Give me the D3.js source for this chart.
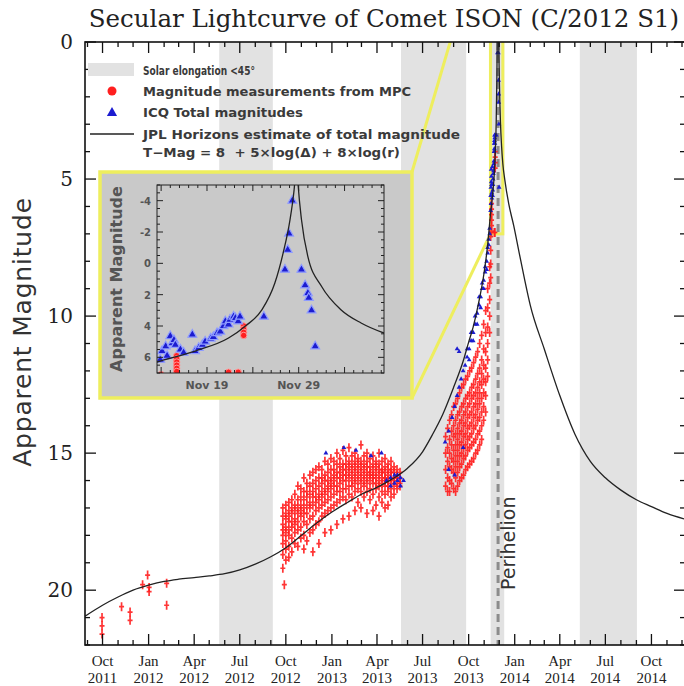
<!DOCTYPE html>
<html>
<head>
<meta charset="utf-8">
<script src="https://cdn.jsdelivr.net/npm/d3@7"></script>
<style>
body{margin:0;background:#fff;}
svg{display:block;}
</style>
</head>
<body>
<svg id="drawing_region"></svg>
<script>
// ---- data (dates as YYYY-MM-DD, day may be fractional) ----
const curveDates = ["2011-08-27","2011-10-01","2011-11-01","2011-12-01","2012-01-01","2012-02-01","2012-03-01","2012-04-01",
  "2012-05-01","2012-06-01","2012-07-01","2012-08-01","2012-09-01","2012-10-01","2012-11-01","2012-12-01","2013-01-01",
  "2013-02-01","2013-03-01","2013-04-01","2013-05-01","2013-06-01","2013-07-01","2013-07-20","2013-08-10","2013-09-01",
  "2013-09-20","2013-10-01","2013-10-10","2013-10-20","2013-11-01","2013-11-08","2013-11-13.55","2013-11-17.7","2013-11-21.35",
  "2013-11-23.2","2013-11-25","2013-11-26.4","2013-11-27.3","2013-11-28.05","2013-11-28.5","2013-11-28.78","2013-11-28.95",
  "2013-11-29.3","2013-11-30","2013-12-01.5","2013-12-03.6","2013-12-05.8","2013-12-08.3","2013-12-12","2013-12-20",
  "2013-12-30","2014-01-10","2014-01-20","2014-02-01","2014-03-01","2014-04-01","2014-05-01","2014-06-01","2014-07-01",
  "2014-08-01","2014-09-01","2014-10-01","2014-11-01","2014-12-05"];
const curveMags = [20.95,20.55,20.25,20.0,19.82,19.68,19.6,19.54,
  19.48,19.4,19.26,19.05,18.78,18.45,18.0,17.56,17.15,
  16.8,16.5,16.25,15.95,15.55,14.95,14.35,13.6,12.6,
  11.65,10.95,10.4,9.6,8.4,7.4,6.3,5.6,4.77,
  4.0,2.96,1.26,-0.65,-2.77,-4.7,-6.5,-4.9,
  -2.8,-0.43,1.48,2.96,3.81,4.45,5.0,5.9,
  6.7,7.7,8.6,9.6,11.2,12.9,14.3,15.3,15.9,
  16.35,16.7,16.95,17.2,17.4];

// Magnitude measurements from MPC
const mpcDates = ["2011-09-30","2011-11-08","2011-11-25","2011-12-20","2011-12-30","2012-01-02","2012-02-06","2012-09-28",
  "2012-09-25","2012-10-01","2012-10-07","2012-10-13","2012-10-19","2012-10-25","2012-10-31","2012-11-06","2012-11-12",
  "2012-11-18","2012-11-24","2012-11-30","2012-12-06","2012-12-12","2012-12-18","2012-12-24","2012-12-30","2013-01-05",
  "2013-01-11","2013-01-17","2013-01-23","2013-01-29","2013-02-04","2013-02-10","2013-02-16","2013-02-22","2013-02-28",
  "2013-03-06","2013-03-12","2013-03-18","2013-03-24","2013-03-30","2013-04-05","2013-04-11","2013-04-17","2013-04-23",
  "2013-04-29","2013-05-05","2013-05-11","2013-05-17",
  "2013-08-16","2013-08-20","2013-08-24","2013-08-28","2013-09-01","2013-09-05","2013-09-09","2013-09-13","2013-09-17",
  "2013-09-21","2013-09-25","2013-09-29","2013-10-03","2013-10-07","2013-10-11","2013-10-15","2013-10-19","2013-10-23",
  "2013-10-27","2013-10-31","2013-11-04","2013-11-08","2013-11-12","2013-11-14",
  "2013-11-15.7","2013-11-21.35","2013-11-22.4","2013-11-23"];
const mpcMags = [[21.0,21.3,21.6],[20.6],[20.8,21.1],[19.8],[19.45],[19.9,20.05],[19.75,20.55],[19.8],
  [17.0,17.3,17.6,17.8,18.0,18.3,18.7,19.2],[16.9,17.2,17.4,17.7,17.9,18.2,18.5,18.9],[16.8,17.1,17.3,17.5,17.8,18.0,18.4,18.8],
  [16.7,17.0,17.2,17.5,17.7,18.1,18.6],[16.5,16.9,17.1,17.4,17.6,17.9,18.3],[16.2,16.7,17.0,17.2,17.5,17.8,18.4],
  [16.3,16.6,16.9,17.1,17.3,17.7,18.1],[15.9,16.4,16.7,17.0,17.2,17.5,18.0,18.5],[16.1,16.4,16.6,16.9,17.2,17.6,18.2],
  [15.8,16.2,16.5,16.8,17.0,17.4,17.9],[15.7,16.1,16.4,16.6,16.9,17.3,17.8,18.6],[15.6,16.0,16.3,16.6,16.8,17.1,17.6],
  [15.5,15.9,16.2,16.5,16.7,17.0,17.5,18.3],[15.6,15.9,16.1,16.4,16.6,16.9,17.3],[15.3,15.8,16.0,16.3,16.5,16.8,17.2,17.9],
  [15.4,15.7,16.0,16.2,16.4,16.7,17.1],[15.2,15.6,15.9,16.1,16.3,16.6,17.0,17.8],[15.3,15.6,15.8,16.0,16.2,16.5,16.9],
  [15.0,15.4,15.7,15.9,16.2,16.4,16.8,17.6],[15.2,15.5,15.7,15.9,16.1,16.4,16.7],[14.9,15.4,15.6,15.8,16.0,16.3,16.6,17.4],
  [15.1,15.4,15.6,15.8,16.0,16.3,16.7],[14.8,15.3,15.5,15.7,15.9,16.2,16.5,17.3],[15.1,15.4,15.6,15.8,16.0,16.2,16.6],
  [15.0,15.3,15.5,15.7,15.9,16.1,16.4,17.1],[15.2,15.4,15.6,15.8,16.0,16.3,16.8],[14.7,15.3,15.5,15.7,15.9,16.1,16.4,17.0],
  [15.1,15.4,15.6,15.8,16.0,16.2,16.6],[15.0,15.3,15.5,15.7,15.9,16.1,16.4,17.2],[15.2,15.5,15.7,15.8,16.0,16.3,16.7],
  [15.1,15.4,15.6,15.8,15.9,16.1,16.5,17.1],[15.3,15.5,15.7,15.9,16.1,16.3,16.9],[15.0,15.4,15.6,15.8,16.0,16.2,16.6,17.3],
  [15.3,15.6,15.7,15.9,16.1,16.4,16.8],[15.2,15.5,15.7,15.9,16.0,16.2,16.5,17.0],[15.4,15.6,15.8,16.0,16.2,16.4,16.9],
  [15.3,15.6,15.7,15.9,16.1,16.3,16.6],[15.5,15.7,15.9,16.0,16.2,16.5],[15.6,15.8,15.9,16.1,16.3],[15.7,15.9,16.1,16.2],
  [14.4,15.0,15.6,16.2],[14.1,14.8,15.3,15.9,16.4],[13.8,14.5,15.0,15.5,16.0,16.4],[13.6,14.2,14.7,15.2,15.6,16.1],
  [13.3,14.0,14.4,14.9,15.3,15.7,16.3],[13.2,13.8,14.3,14.7,15.1,15.5,15.9,16.4],[13.0,13.6,14.1,14.5,14.9,15.3,15.7,16.2],
  [12.8,13.5,13.9,14.3,14.7,15.1,15.5,16.0],[12.6,13.3,13.8,14.2,14.6,15.0,15.4,15.9],[12.5,13.2,13.6,14.0,14.4,14.8,15.2,15.8],
  [12.3,13.0,13.5,13.9,14.3,14.7,15.1,15.6],[12.2,12.9,13.3,13.7,14.1,14.5,14.9,15.5],[12.0,12.8,13.2,13.6,14.0,14.4,14.8,15.4],
  [11.9,12.6,13.0,13.5,13.9,14.3,14.7,15.3],[11.7,12.5,12.9,13.3,13.7,14.1,14.6,15.2],[11.5,12.3,12.8,13.2,13.6,14.0,14.5,15.0],
  [11.3,12.1,12.6,13.0,13.4,13.8,14.3,14.9],[11.0,11.9,12.4,12.8,13.2,13.7,14.2,14.7],[10.7,11.6,12.1,12.5,13.0,13.5,14.0,14.5],
  [10.3,11.2,11.8,12.3,12.8,13.3,13.8],[9.8,10.6,11.3,11.9,12.4,12.9,13.5],[9.0,9.7,10.4,11.0,11.6,12.2],[8.2,8.8,9.4,10.0,10.6],
  [7.1,7.6,8.1,8.6],
  [5.9,6.1,6.3,6.5,6.7,6.9],[6.95],[6.95],[4.0,4.2,4.4,4.6]];

// ICQ total magnitudes
const icqDates = ["2012-12-20","2013-01-25","2013-02-18","2013-03-20","2013-04-10","2013-04-20","2013-04-28","2013-05-06",
  "2013-05-12","2013-05-18","2013-05-24",
  "2013-08-15","2013-08-22","2013-08-29","2013-09-03","2013-09-08","2013-09-12","2013-09-16","2013-09-20","2013-09-24",
  "2013-09-28","2013-10-02","2013-10-06","2013-10-10","2013-10-14","2013-10-18","2013-10-22","2013-10-25","2013-10-28",
  "2013-10-31","2013-11-03","2013-11-06","2013-11-08","2013-11-10","2013-11-12",
  "2013-11-13.9","2013-11-14.1","2013-11-14.5","2013-11-14.65","2013-11-15","2013-11-15.2","2013-11-15.4","2013-11-15.55",
  "2013-11-16.1","2013-11-16.45","2013-11-17.4","2013-11-17.7","2013-11-18.1","2013-11-18.5","2013-11-18.8","2013-11-19.4",
  "2013-11-19.7","2013-11-20.1","2013-11-20.45","2013-11-20.8","2013-11-21","2013-11-21.35","2013-11-21.5","2013-11-21.9",
  "2013-11-22.1","2013-11-22.4","2013-11-22.6","2013-11-25.2","2013-11-27.5","2013-11-27.8","2013-11-27.95","2013-11-28.3",
  "2013-11-29.3","2013-11-29.7","2013-11-30","2013-11-30.1","2013-11-30.4","2013-11-30.8"];
const icqMags = [[15.0],[14.8],[14.9],[15.1],[15.0],[16.0],[15.9,16.2],[16.1,15.8],
  [15.8,16.0],[16.2,15.9],[16.0],
  [14.6],[14.2,15.6],[13.7],[13.3,15.8],[12.9,11.2],[12.6,11.3],[12.3],[12.0,14.8],[11.8],
  [11.5,11.2],[11.2,11.6],[10.9,10.6],[10.6,10.9],[10.3,10.0],[9.9,10.3],[9.6,9.3],[9.3,9.7],[9.0,8.8],
  [8.7,9.0],[8.4,8.2],[8.0,8.3],[7.7,7.5],[7.4,7.2],[7.0,6.8],
  [6.15],[5.6],[5.3],[5.9],[4.65],[5.1],[4.9],[5.2],
  [5.5],[5.7],[4.55],[5.6],[5.4],[5.2],[5.0],[4.8],
  [4.7],[4.45],[4.35],[4.0],[3.7],[3.9],[3.6],[3.4],
  [3.5],[3.7],[3.4],[3.4],[0.4],[-0.86],[-1.9],[-4.0],
  [0.4],[1.4],[1.9],[2.2],[3.0],[5.3]];

// solar elongation < 45 deg
const bandStarts = ["2012-05-21","2013-05-19","2013-11-14","2014-05-11"];
const bandEnds   = ["2012-09-05","2013-09-26","2013-12-11","2014-09-02"];
const perihelion = "2013-11-28.78";
const insetRange = ["2013-11-13.55","2013-12-08.3"];
const insetMagRange = [-5, 7];
const insetTickDates = ["2013-11-19","2013-11-29"];
const insetTickLabels = ["Nov 19","Nov 29"];

// ---- helpers ----
function day(s){
    const p = s.split('-');
    return new Date(Date.UTC(+p[0], +p[1]-1, 1) + (+p[2]-1)*864e5);
}
function rows(dates, mags){
    const out = [];
    dates.forEach((d,i) => mags[i].forEach(m => out.push({t: day(d), m: m})));
    return out;
}
const curve = curveDates.map((d,i) => ({t: day(d), m: curveMags[i]}));
const mpc = rows(mpcDates, mpcMags);
const icq = rows(icqDates, icqMags);

const RED = '#ff1f1f', BLUE = '#1c1cd0', BAND = '#e2e2e2', YEL = '#eeee5e';

const svg = d3.select('#drawing_region').attr('width', 684).attr('height', 686)
              .style('font-family', 'DejaVu Sans');

const plot = {left: 85, top: 42, right: 685, bottom: 645};
const x = d3.scaleUtc().domain([day("2011-08-27"), day("2014-12-05")]).range([plot.left, 684]);
const y = d3.scaleLinear().domain([0, 22]).range([plot.top, plot.bottom]);

const defs = svg.append('defs');
defs.append('clipPath').attr('id', 'clip-main').append('rect')
    .attr('x', plot.left).attr('y', plot.top)
    .attr('width', plot.right - plot.left).attr('height', plot.bottom - plot.top);

// title
svg.append('text').attr('x', 384).attr('y', 27).attr('text-anchor', 'middle')
   .style('font-family', 'DejaVu Serif').style('font-size', '24.5px').attr('fill', '#222')
   .text('Secular Lightcurve of Comet ISON (C/2012 S1)');

const main = svg.append('g').attr('clip-path', 'url(#clip-main)');

// grey bands
main.selectAll('rect.band').data(bandStarts).enter().append('rect')
    .attr('x', (d,i) => x(day(d)))
    .attr('width', (d,i) => x(day(bandEnds[i])) - x(day(d)))
    .attr('y', plot.top).attr('height', plot.bottom - plot.top)
    .attr('fill', BAND);

// perihelion
main.append('line')
    .attr('x1', x(day(perihelion))).attr('x2', x(day(perihelion)))
    .attr('y1', plot.top).attr('y2', plot.bottom)
    .attr('stroke', '#8c8c8c').attr('stroke-width', 3).attr('stroke-dasharray', '8,5');

// zoom box + connectors to the inset
const inset = {left: 100, top: 172, right: 412, bottom: 398};
const zx0 = x(day(insetRange[0])), zx1 = x(day(insetRange[1]));
main.append('rect').attr('x', zx0).attr('width', zx1 - zx0)
    .attr('y', y(insetMagRange[0])).attr('height', y(insetMagRange[1]) - y(insetMagRange[0]))
    .attr('fill', 'none').attr('stroke', YEL).attr('stroke-width', 3);
main.append('line').attr('x1', inset.right).attr('y1', inset.top)
    .attr('x2', zx0).attr('y2', y(insetMagRange[0]))
    .attr('stroke', YEL).attr('stroke-width', 3);
main.append('line').attr('x1', inset.right).attr('y1', inset.bottom)
    .attr('x2', zx0).attr('y2', y(insetMagRange[1]))
    .attr('stroke', YEL).attr('stroke-width', 3);

// MPC points: small crosses with tall vertical bars
main.selectAll('path.mpc').data(mpc).enter().append('path')
    .attr('d', d => `M${x(d.t)},${y(d.m)-4.5}V${y(d.m)+4.5}M${x(d.t)-2.5},${y(d.m)}H${x(d.t)+2.5}`)
    .attr('stroke', RED).attr('stroke-width', 1.7).attr('fill', 'none').attr('opacity', 0.9);

// ICQ points
const triSmall = d3.symbol().type(d3.symbolTriangle).size(10);
main.selectAll('path.icq').data(icq).enter().append('path')
    .attr('transform', d => `translate(${x(d.t)},${y(d.m)})`)
    .attr('d', triSmall).attr('fill', BLUE);

// JPL curve
const line = d3.line().x(d => x(d.t)).y(d => y(d.m)).curve(d3.curveMonotoneX);
main.append('path').attr('d', line(curve))
    .attr('fill', 'none').attr('stroke', '#222').attr('stroke-width', 1.3);

// ---- axes (frame + inward ticks) ----
const ax = svg.append('g').attr('stroke', '#111');
ax.append('rect').attr('x', plot.left).attr('y', plot.top)
  .attr('width', plot.right - plot.left).attr('height', plot.bottom - plot.top)
  .attr('fill', 'none').attr('stroke-width', 1.6);

const months = d3.utcMonth.range(x.domain()[0], x.domain()[1]);
months.forEach(m => {
    const len = m.getUTCMonth() % 3 === 0 ? 11 : 5;
    ax.append('line').attr('x1', x(m)).attr('x2', x(m)).attr('y1', plot.bottom).attr('y2', plot.bottom - len).attr('stroke-width', 1.3);
    ax.append('line').attr('x1', x(m)).attr('x2', x(m)).attr('y1', plot.top).attr('y2', plot.top + len).attr('stroke-width', 1.3);
});
d3.range(0, 23).forEach(v => {
    const len = v % 5 === 0 ? 11 : 5;
    ax.append('line').attr('x1', plot.left).attr('x2', plot.left + len).attr('y1', y(v)).attr('y2', y(v)).attr('stroke-width', 1.3);
    ax.append('line').attr('x1', plot.right).attr('x2', plot.right - len).attr('y1', y(v)).attr('y2', y(v)).attr('stroke-width', 1.3);
});

const quarters = months.filter(m => m.getUTCMonth() % 3 === 0);
const xlab = svg.append('g').style('font-family', 'Liberation Serif').style('font-size', '15px')
                .attr('fill', '#222').attr('text-anchor', 'middle');
quarters.forEach(q => {
    xlab.append('text').attr('x', x(q)).attr('y', 666).text(d3.utcFormat('%b')(q));
    xlab.append('text').attr('x', x(q)).attr('y', 683).text(d3.utcFormat('%Y')(q));
});

const ylab = svg.append('g').style('font-family', 'DejaVu Serif').style('font-size', '20px')
                .attr('fill', '#222').attr('text-anchor', 'end');
[0, 5, 10, 15, 20].forEach(v => {
    ylab.append('text').attr('x', 73).attr('y', y(v) + 7).text(v);
});
svg.append('text').attr('transform', 'translate(31,332) rotate(-90)').attr('text-anchor', 'middle')
   .style('font-size', '25px').style('letter-spacing', '0.8px').attr('fill', '#333')
   .text('Apparent Magnitude');

svg.append('text').attr('transform', `translate(${x(day(perihelion)) + 17},590) rotate(-90)`)
   .style('font-size', '19px').attr('fill', '#333').text('Perihelion');

// ---- legend ----
const leg = svg.append('g');
const legY = [70, 91, 112, 134, 152];
leg.append('rect').attr('x', 88).attr('y', legY[0] - 7).attr('width', 46).attr('height', 13).attr('fill', BAND);
leg.append('circle').attr('cx', 112).attr('cy', legY[1]).attr('r', 4.5).attr('fill', RED);
leg.append('path').attr('transform', `translate(112,${legY[2] + 1})`)
   .attr('d', d3.symbol().type(d3.symbolTriangle).size(45)).attr('fill', BLUE);
leg.append('line').attr('x1', 90).attr('x2', 134).attr('y1', legY[3]).attr('y2', legY[3])
   .attr('stroke', '#222').attr('stroke-width', 1.3);
const legText = ['Solar elongation <45°', 'Magnitude measurements from MPC', 'ICQ Total magnitudes',
                 'JPL Horizons estimate of total magnitude', 'T\u2212Mag = 8  + 5×log(Δ) + 8×log(r)'];
const legLen = [112, 268, 160, 317, 257];
legText.forEach((t, i) => {
    leg.append('text').attr('x', 143).attr('y', legY[i] + 4.5)
       .attr('textLength', legLen[i]).attr('lengthAdjust', 'spacingAndGlyphs')
       .style('font-size', '12px').style('font-weight', 'bold').attr('fill', '#3a3a3a')
       .attr('xml:space', 'preserve').text(t);
});

// ---- inset ----
const ip = {left: 157, top: 185, right: 384, bottom: 373};
const ix = d3.scaleUtc().domain(insetRange.map(day)).range([ip.left, ip.right]);
const iy = d3.scaleLinear().domain(insetMagRange).range([ip.top, ip.bottom]);
defs.append('clipPath').attr('id', 'clip-inset').append('rect')
    .attr('x', ip.left).attr('y', ip.top).attr('width', ip.right - ip.left).attr('height', ip.bottom - ip.top);

const ins = svg.append('g');
ins.append('rect').attr('x', inset.left).attr('y', inset.top)
   .attr('width', inset.right - inset.left).attr('height', inset.bottom - inset.top)
   .attr('fill', '#c9c9c9').attr('stroke', YEL).attr('stroke-width', 3.5);

const inner = ins.append('g').attr('clip-path', 'url(#clip-inset)');
inner.selectAll('circle').data(mpc).enter().append('circle')
     .attr('cx', d => ix(d.t)).attr('cy', d => iy(d.m)).attr('r', 3.2)
     .attr('fill', RED).attr('stroke', '#ff9a9a').attr('stroke-width', 1);
const triBig = d3.symbol().type(d3.symbolTriangle).size(34);
inner.selectAll('path.icq').data(icq).enter().append('path')
     .attr('transform', d => `translate(${ix(d.t)},${iy(d.m)})`)
     .attr('d', triBig).attr('fill', BLUE).attr('stroke', '#8f9cff').attr('stroke-width', 1.2);
const iline = d3.line().x(d => ix(d.t)).y(d => iy(d.m)).curve(d3.curveMonotoneX);
inner.append('path').attr('d', iline(curve)).attr('fill', 'none').attr('stroke', '#222').attr('stroke-width', 1.3);

const iax = ins.append('g').attr('stroke', '#222').attr('stroke-width', 1);
iax.append('rect').attr('x', ip.left).attr('y', ip.top)
   .attr('width', ip.right - ip.left).attr('height', ip.bottom - ip.top).attr('fill', 'none');
d3.range(insetMagRange[0], insetMagRange[1] + 0.01, 0.5).forEach(v => {
    const len = v % 2 === 0 ? 6 : 3;
    iax.append('line').attr('x1', ip.left).attr('x2', ip.left + len).attr('y1', iy(v)).attr('y2', iy(v));
    iax.append('line').attr('x1', ip.right).attr('x2', ip.right - len).attr('y1', iy(v)).attr('y2', iy(v));
});
d3.utcDay.range(ix.domain()[0], ix.domain()[1]).forEach(d => {
    const len = (d.getUTCDate() % 5 === 4) ? 6 : 3;
    iax.append('line').attr('x1', ix(d)).attr('x2', ix(d)).attr('y1', ip.bottom).attr('y2', ip.bottom - len);
    iax.append('line').attr('x1', ix(d)).attr('x2', ix(d)).attr('y1', ip.top).attr('y2', ip.top + len);
});

const ilab = ins.append('g').style('font-weight', 'bold').attr('fill', '#555');
[-4, -2, 0, 2, 4, 6].forEach(v => {
    ilab.append('text').attr('x', 151).attr('y', iy(v) + 4).attr('text-anchor', 'end')
        .style('font-size', '10px').text(v < 0 ? '-' + Math.abs(v) : v);
});
insetTickDates.forEach((d, i) => {
    ilab.append('text').attr('x', ix(day(d))).attr('y', 389).attr('text-anchor', 'middle')
        .style('font-size', '11px').text(insetTickLabels[i]);
});
ilab.append('text').attr('transform', 'translate(122,279) rotate(-90)').attr('text-anchor', 'middle')
    .style('font-size', '16px').text('Apparent Magnitude');
</script>
</body>
</html>
